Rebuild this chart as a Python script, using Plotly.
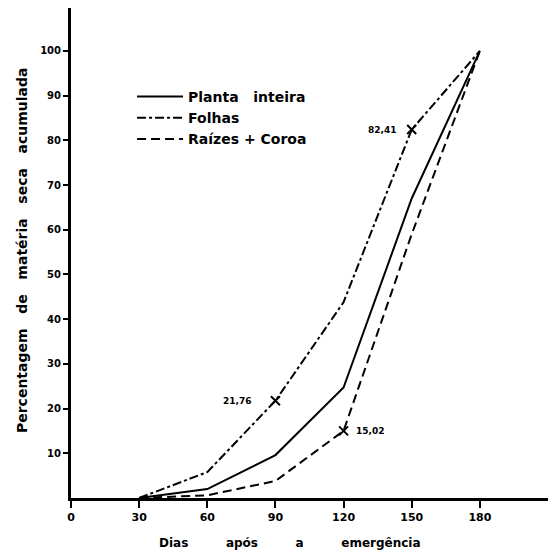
import plotly.graph_objects as go

dias = [30, 60, 90, 120, 150, 180]
planta_inteira = [0, 2.0, 9.6, 24.7, 67.0, 100]
folhas = [0, 5.8, 21.76, 43.8, 82.41, 100]
raizes_coroa = [0, 0.6, 3.8, 15.02, 59.0, 100]

x_ticks = [0, 30, 60, 90, 120, 150, 180]
x_ticklabels = ["0", "30", "60", "90", "120", "150", "180"]
y_ticks = [10, 20, 30, 40, 50, 60, 70, 80, 90, 100]

# highlighted points (x, y, label)
marks_x = [90, 150, 120]
marks_y = [21.76, 82.41, 15.02]
marks_text = ["21,76", "82,41", "15,02"]

x_title = "Dias         após         a         emergência"
y_title = "Percentagem   de   matéria   seca   acumulada"

NB = "\u00a0"
font_fam = "DejaVu Sans, Liberation Sans, sans-serif"


def nb(s):
    return s.replace(" ", NB)


fig = go.Figure()
fig.add_trace(go.Scatter(x=dias, y=planta_inteira, mode="lines",
                         name="<b>" + nb("Planta   inteira") + "</b>",
                         line=dict(color="black", width=2)))
fig.add_trace(go.Scatter(x=dias, y=folhas, mode="lines",
                         name="<b>Folhas</b>",
                         line=dict(color="black", width=2, dash="dashdot")))
fig.add_trace(go.Scatter(x=dias, y=raizes_coroa, mode="lines",
                         name="<b>Raízes + Coroa</b>",
                         line=dict(color="black", width=2, dash="9px,5px")))
fig.add_trace(go.Scatter(x=marks_x, y=marks_y, mode="markers", showlegend=False,
                         marker=dict(symbol="x-thin", size=9, color="black",
                                     line=dict(color="black", width=2))))

offsets = [(-38, 0), (-30, 0), (26, 0)]
for xv, yv, t, (ax, ay) in zip(marks_x, marks_y, marks_text, offsets):
    fig.add_annotation(x=xv, y=yv, text="<b>" + t + "</b>", showarrow=False,
                       xshift=ax, yshift=ay,
                       font=dict(size=9, color="black", family=font_fam))

# axis titles as annotations for exact placement
fig.add_annotation(xref="paper", yref="paper", x=0.459, y=0, yshift=-45,
                   xanchor="center", yanchor="middle", showarrow=False,
                   text="<b>" + nb(x_title) + "</b>",
                   font=dict(size=12, color="black", family=font_fam))
fig.add_annotation(xref="paper", yref="paper", x=0, xshift=-49, y=0.506,
                   xanchor="center", yanchor="middle", showarrow=False,
                   textangle=-90,
                   text="<b>" + nb(y_title) + "</b>",
                   font=dict(size=14, color="black", family=font_fam))

fig.update_layout(
    width=553, height=558,
    margin=dict(l=71, r=5, t=8, b=60),
    paper_bgcolor="white", plot_bgcolor="white",
    font=dict(family=font_fam, color="black", size=10),
    showlegend=True,
    legend=dict(x=0.128, y=0.851, xanchor="left", yanchor="top",
                bgcolor="rgba(0,0,0,0)", font=dict(size=14, color="black"),
                tracegroupgap=0, itemwidth=46),
)
fig.update_xaxes(range=[0, 210], tickvals=x_ticks,
                 ticktext=["<b>" + t + "</b>" for t in x_ticklabels],
                 showline=True, linecolor="black", linewidth=3,
                 ticks="outside", ticklen=7, tickwidth=2, tickcolor="black",
                 showgrid=False, zeroline=False, automargin=False,
                 tickfont=dict(size=11, color="black"))
fig.update_yaxes(range=[0, 109.6], tickvals=y_ticks,
                 ticktext=["<b>%d</b>" % v for v in y_ticks],
                 showline=True, linecolor="black", linewidth=3,
                 ticks="outside", ticklen=5, tickwidth=2, tickcolor="black",
                 showgrid=False, zeroline=False, automargin=False,
                 tickfont=dict(size=10, color="black"))

fig.write_html("out.html", config={"displayModeBar": False},
               post_script="document.body.style.margin='0';")
